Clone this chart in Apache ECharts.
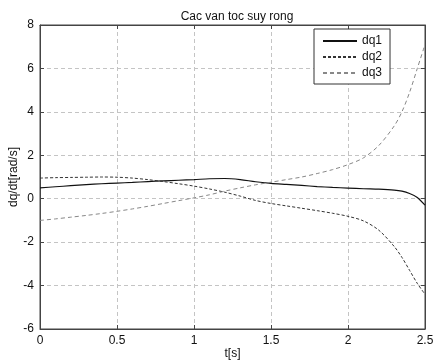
<!DOCTYPE html>
<html>
<head>
<meta charset="utf-8">
<script src="https://cdn.jsdelivr.net/npm/echarts@6/dist/echarts.min.js"></script>
<style>
  html, body { margin: 0; padding: 0; background: #fff; }
  #chart { width: 433px; height: 363px; }
</style>
</head>
<body>
<div id="chart"></div>
<script>
// time samples [s]
const tValues = [0, 0.1, 0.2, 0.3, 0.4, 0.5, 0.6, 0.7, 0.8, 0.9, 1.0, 1.1, 1.2, 1.3, 1.4,
  1.5, 1.6, 1.7, 1.8, 1.9, 2.0, 2.1, 2.2, 2.3, 2.35, 2.4, 2.45, 2.5];

const dq1 = [0.50, 0.55, 0.60, 0.65, 0.69, 0.72, 0.75, 0.79, 0.82, 0.85, 0.88, 0.92, 0.93, 0.88, 0.78,
  0.71, 0.66, 0.61, 0.56, 0.52, 0.49, 0.46, 0.44, 0.40, 0.35, 0.24, 0.06, -0.30];

const dq2 = [0.95, 0.97, 0.98, 0.99, 1.00, 0.99, 0.95, 0.88, 0.79, 0.69, 0.58, 0.45, 0.30, 0.12, -0.08,
  -0.22, -0.33, -0.44, -0.55, -0.67, -0.81, -1.02, -1.45, -2.2, -2.7, -3.3, -3.9, -4.4];

const dq3 = [-1.00, -0.93, -0.85, -0.77, -0.68, -0.58, -0.47, -0.35, -0.22, -0.09, 0.04, 0.18, 0.35, 0.50, 0.64,
  0.76, 0.88, 1.00, 1.16, 1.34, 1.57, 1.88, 2.45, 3.35, 4.0, 4.9, 6.0, 7.1];

const pair = (ys) => tValues.map((t, i) => [t, ys[i]]);

const chart = echarts.init(document.getElementById("chart"), null, { renderer: "canvas" });

const font = "'Liberation Sans', Arial, sans-serif";
const gridLine = { show: true, lineStyle: { color: "#c4c4c4", type: [4, 3], width: 1 } };
const frame = { show: true, onZero: false, lineStyle: { color: "#444" } };
const ticks = { show: true, inside: true, length: 4, lineStyle: { color: "#444" } };

const option = {
  animation: false,
  backgroundColor: "#fff",
  textStyle: { fontFamily: font },
  title: {
    text: "Cac van toc suy rong",
    left: 232, top: 6, textAlign: "center",
    textStyle: { fontSize: 12, fontWeight: "normal", color: "#111", fontFamily: font }
  },
  grid: {
    left: 40, right: 8, top: 25, bottom: 34,
    outerBoundsMode: "none", containLabel: false,
    show: true, borderColor: "#444", borderWidth: 1
  },
  legend: {
    orient: "vertical",
    left: 314, top: 29,
    data: ["dq1", "dq2", "dq3"],
    itemWidth: 34, itemHeight: 10, itemGap: 4,
    padding: [6, 8, 5, 8],
    borderColor: "#333", borderWidth: 1, backgroundColor: "#fff",
    itemStyle: { opacity: 0 },
    textStyle: { fontSize: 12, color: "#111", fontFamily: font }
  },
  xAxis: [{
    type: "value", min: 0, max: 2.5, interval: 0.5,
    name: "t[s]", nameLocation: "middle", nameGap: 19, nameMoveOverlap: false,
    nameTextStyle: { fontSize: 12, color: "#111" },
    axisLine: frame, axisTick: ticks,
    axisLabel: { fontSize: 12, color: "#111", margin: 6 },
    splitLine: gridLine
  }, {
    type: "value", position: "top", min: 0, max: 2.5, interval: 0.5,
    axisLine: frame, axisTick: ticks,
    axisLabel: { show: false }, splitLine: { show: false }
  }],
  yAxis: [{
    type: "value", min: -6, max: 8, interval: 2,
    name: "dq/dt[rad/s]", nameLocation: "middle", nameGap: 20, nameMoveOverlap: false,
    nameTextStyle: { fontSize: 12, color: "#111" },
    axisLine: frame, axisTick: ticks,
    axisLabel: { fontSize: 12, color: "#111", margin: 6 },
    splitLine: gridLine
  }, {
    type: "value", position: "right", min: -6, max: 8, interval: 2,
    axisLine: frame, axisTick: ticks,
    axisLabel: { show: false }, splitLine: { show: false }
  }],
  series: [
    {
      name: "dq1", type: "line", data: pair(dq1), smooth: 0.3,
      symbol: "none", color: "#111",
      lineStyle: { color: "#111", width: 1.2, type: "solid" }
    },
    {
      name: "dq2", type: "line", data: pair(dq2), smooth: 0.3,
      symbol: "none", color: "#333",
      lineStyle: { color: "#333", width: 1, type: [3, 2] }
    },
    {
      name: "dq3", type: "line", data: pair(dq3), smooth: 0.3,
      symbol: "none", color: "#888",
      lineStyle: { color: "#888", width: 1, type: [4, 3] }
    }
  ]
};

chart.setOption(option);
</script>
</body>
</html>
